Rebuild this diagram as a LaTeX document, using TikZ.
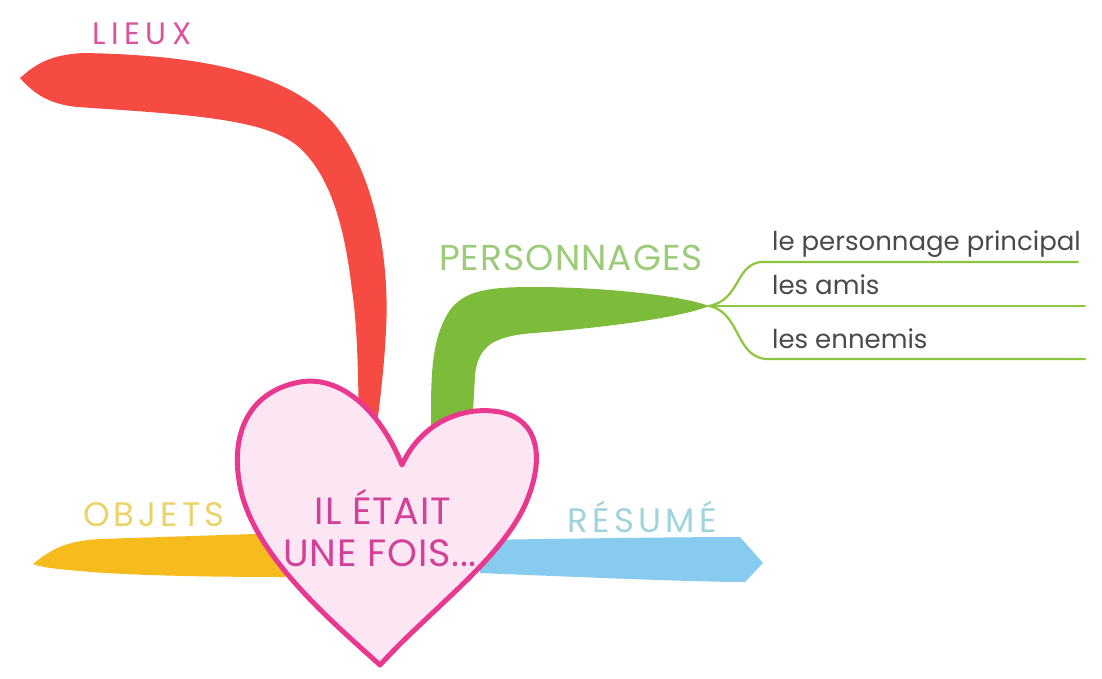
\documentclass[tikz,border=0pt]{standalone}
\usepackage{fontspec}
\setmainfont{Poppins}
\definecolor{lieuxred}{HTML}{F54B42}
\definecolor{persgreen}{HTML}{7DBB3A}
\definecolor{linegreen}{HTML}{8CC63F}
\definecolor{objyellow}{HTML}{F6BC1E}
\definecolor{resblue}{HTML}{87CCEE}
\definecolor{heartfill}{HTML}{FCE6F4}
\definecolor{heartline}{HTML}{E8388F}
\definecolor{tlieux}{HTML}{D9539E}
\definecolor{tpers}{HTML}{9CCB7A}
\definecolor{tobj}{HTML}{EBD36A}
\definecolor{tres}{HTML}{9FD3DD}
\definecolor{theart}{HTML}{D2409A}
\definecolor{titem}{HTML}{4A4A4A}
\tikzset{
  branchlabel/.style={inner sep=0pt},
  itemlabel/.style={inner sep=0pt, anchor=base west, text=titem, font=\fontsize{26}{26}\selectfont},
  heartlabel/.style={inner sep=0pt, text=theart, font=\fontsize{38}{38}\selectfont\addfontfeatures{LetterSpace=2}},
  itemline/.style={draw=linegreen, line width=2.2pt, line cap=round}
}
\begin{document}
\begin{tikzpicture}[x=1pt,y=-1pt]
\useasboundingbox (0,0) rectangle (1102,678);
\fill[white] (0,0) rectangle (1102,678);
% red branch
\fill[lieuxred] (20,78) .. controls (35,65) and (48,55) .. (83,53)
  .. controls (200,55) and (290,72) .. (335,125)
  .. controls (375,175) and (390,260) .. (386,330)
  .. controls (384,370) and (380,400) .. (377,425)
  -- (359,425)
  .. controls (358,380) and (358,330) .. (352,290)
  .. controls (345,230) and (332,180) .. (302,150)
  .. controls (272,120) and (200,115) .. (77,107)
  .. controls (50,104) and (35,95) .. (20,78) -- cycle;
% green branch
\fill[persgreen] (431,430) .. controls (431,380) and (430,340) .. (450,310)
  .. controls (465,290) and (490,287) .. (534,287)
  .. controls (600,287) and (680,295) .. (709,306)
  .. controls (680,318) and (600,328) .. (534,333)
  .. controls (495,336) and (478,345) .. (475,375)
  -- (472,430) -- cycle;
% yellow branch
\fill[objyellow] (33,564) .. controls (50,550) and (65,541) .. (100,539)
  -- (285,533) -- (285,577)
  .. controls (200,577) and (120,575) .. (80,571)
  .. controls (55,569) and (40,567) .. (33,564) -- cycle;
% blue branch
\fill[resblue] (480,540) .. controls (600,538) and (700,537) .. (740,537)
  -- (763,563) -- (745,582)
  .. controls (700,582) and (600,578) .. (480,573) -- cycle;
% heart
\draw[fill=heartfill, draw=heartline, line width=5pt, line join=round]
  (402,465) .. controls (380,410) and (340,375) .. (300,382)
  .. controls (245,392) and (228,440) .. (242,495)
  .. controls (260,560) and (330,620) .. (380,665)
  .. controls (430,610) and (500,560) .. (525,505)
  .. controls (545,460) and (540,420) .. (500,412)
  .. controls (460,405) and (420,425) .. (402,465) -- cycle;
\node[heartlabel] (h1) at (383,507) {IL ÉTAIT};
\node[heartlabel] (h2) at (380,553) {UNE FOIS...};
% labels
\node[branchlabel, text=tlieux, font=\fontsize{31}{31}\selectfont\addfontfeatures{LetterSpace=18}] (lieux) at (142,34) {LIEUX};
\node[branchlabel, text=tpers, font=\fontsize{36}{36}\selectfont\addfontfeatures{LetterSpace=3}] (pers) at (571,258) {PERSONNAGES};
\node[branchlabel, text=tobj, font=\fontsize{34}{34}\selectfont\addfontfeatures{LetterSpace=12}] (obj) at (154,515) {OBJETS};
\node[branchlabel, text=tres, font=\fontsize{34}{34}\selectfont\addfontfeatures{LetterSpace=13}] (res) at (642,517) {RÉSUMÉ};
% bracket and lines
\coordinate (tip) at (709,306);
\coordinate (l1s) at (760,262);
\coordinate (l1e) at (1078,262);
\coordinate (l2e) at (1085,306);
\coordinate (l3s) at (765,359);
\coordinate (l3e) at (1085,359);
\draw[itemline] (tip) .. controls (740,300) and (735,266) .. (l1s) -- (l1e);
\draw[itemline] (tip) -- (l2e);
\draw[itemline] (tip) .. controls (740,312) and (735,355) .. (l3s) -- (l3e);
\node[itemlabel] (i1) at (772,250) {le personnage principal};
\node[itemlabel] (i2) at (772,294) {les amis};
\node[itemlabel] (i3) at (772,348) {les ennemis};
\end{tikzpicture}
\end{document}
